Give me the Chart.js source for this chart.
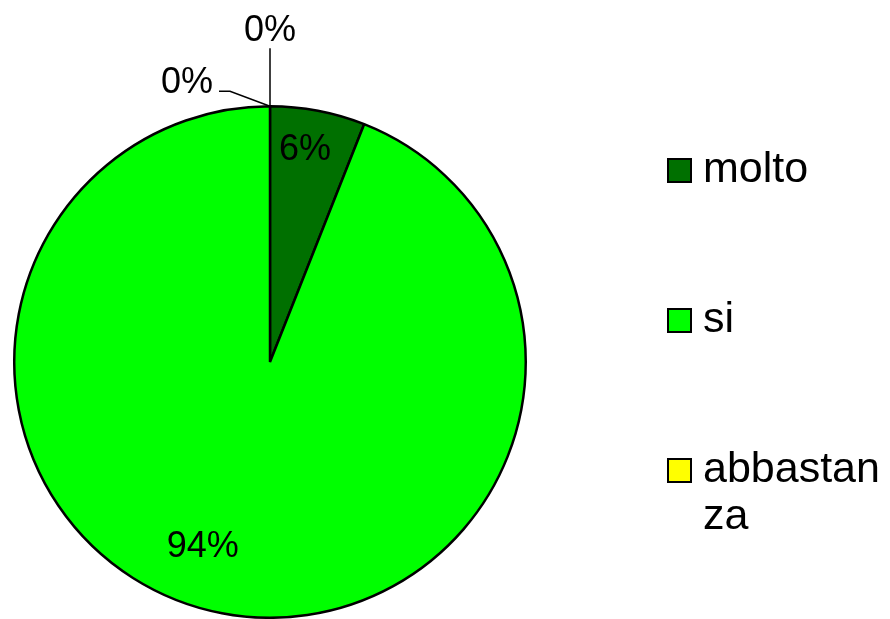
<!DOCTYPE html>
<html>
<head>
<meta charset="utf-8">
<script src="https://cdn.jsdelivr.net/npm/chart.js@4.4.1/dist/chart.umd.min.js"></script>
<style>
  html, body { margin: 0; padding: 0; background: #fff; }
  #wrap { width: 890px; height: 619px; }
</style>
</head>
<body>
<div id="wrap"><canvas id="pie" width="890" height="619"></canvas></div>
<script>
// risposte e percentuali
const categories = ['molto', 'si', 'abbastanza', 'poco'];
const percentages = [6, 94, 0, 0];
const sliceColors = ['#007000', '#00FF00', '#FFFF00', '#FFCC00'];

const FONT = '"Liberation Sans", Arial, sans-serif';

// etichette dei dati: dentro le fette, con richiamo per quelle a 0%
const sliceLabels = {
    id: 'sliceLabels',
    afterDatasetsDraw(chart) {
        const ctx = chart.ctx;
        const arcs = chart.getDatasetMeta(0).data;
        const values = chart.data.datasets[0].data;
        let zeroCount = 0;
        ctx.save();
        ctx.font = '36px ' + FONT;
        ctx.fillStyle = '#000';
        ctx.strokeStyle = '#000';
        ctx.lineWidth = 1.5;
        arcs.forEach((arc, i) => {
            const { x, y, startAngle, endAngle, outerRadius } = arc.getProps(['x', 'y', 'startAngle', 'endAngle', 'outerRadius'], true);
            const text = values[i] + '%';
            if (values[i] === 0) {
                const px = x + Math.cos(startAngle) * outerRadius;
                const py = y + Math.sin(startAngle) * outerRadius;
                ctx.beginPath();
                if (zeroCount === 0) {
                    ctx.moveTo(px, py);
                    ctx.lineTo(px, py - 58);
                    ctx.stroke();
                    ctx.textAlign = 'center';
                    ctx.textBaseline = 'alphabetic';
                    ctx.fillText(text, px, py - 65);
                } else {
                    ctx.moveTo(px, py);
                    ctx.lineTo(px - 40, py - 15);
                    ctx.lineTo(px - 51, py - 15);
                    ctx.stroke();
                    ctx.textAlign = 'right';
                    ctx.textBaseline = 'alphabetic';
                    ctx.fillText(text, px - 57, py - 13);
                }
                zeroCount++;
                return;
            }
            const mid = (startAngle + endAngle) / 2;
            const share = (endAngle - startAngle) / (2 * Math.PI);
            const r = outerRadius * (share < 0.5 ? 0.84 : 0.77);
            const ang = share < 0.5 ? mid - 0.025 : mid + 0.16;
            ctx.textAlign = 'center';
            ctx.textBaseline = 'middle';
            ctx.fillText(text, x + Math.cos(ang) * r, y + Math.sin(ang) * r);
        });
        ctx.restore();
    }
};

// legenda a destra, con a capo come nell'originale
const sideLegend = {
    id: 'sideLegend',
    afterDraw(chart) {
        const ctx = chart.ctx;
        const labels = chart.data.labels;
        const colors = chart.data.datasets[0].backgroundColor;
        const boxX = 668, textX = 703, maxW = 184, lineH = 47;
        let baseline = 182;
        ctx.save();
        ctx.font = '43px ' + FONT;
        ctx.textAlign = 'left';
        ctx.textBaseline = 'alphabetic';
        labels.forEach((label, i) => {
            // spezza la parola se non entra
            const lines = [];
            let cur = '';
            for (const ch of label) {
                if (ctx.measureText(cur + ch).width > maxW && cur) {
                    lines.push(cur);
                    cur = ch;
                } else {
                    cur += ch;
                }
            }
            lines.push(cur);
            ctx.fillStyle = colors[i];
            ctx.fillRect(boxX, baseline - 23, 23, 23);
            ctx.lineWidth = 2;
            ctx.strokeStyle = '#000';
            ctx.strokeRect(boxX, baseline - 23, 23, 23);
            ctx.fillStyle = '#000';
            lines.forEach((ln, k) => ctx.fillText(ln, textX, baseline + k * lineH));
            // le voci su due righe spingono giù le successive
            baseline += 150 + (lines.length - 1) * lineH;
        });
        ctx.restore();
    }
};

new Chart(document.getElementById('pie'), {
    type: 'pie',
    data: {
        labels: categories,
        datasets: [{
            data: percentages,
            backgroundColor: sliceColors,
            borderColor: '#000',
            borderWidth: 2.5
        }]
    },
    options: {
        responsive: false,
        animation: false,
        layout: { padding: { left: 13, right: 363, top: 105, bottom: 0 } },
        plugins: {
            legend: { display: false },
            tooltip: { enabled: false }
        }
    },
    plugins: [sliceLabels, sideLegend]
});
</script>
</body>
</html>
